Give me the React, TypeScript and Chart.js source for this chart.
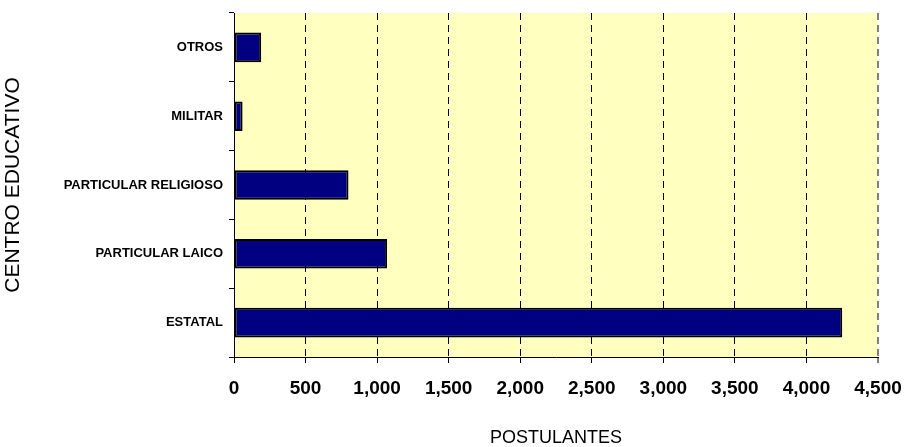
import React, { useEffect, useRef } from "react";
import { Chart, registerables } from "chart.js";

Chart.register(...registerables);

const categories = ["OTROS", "MILITAR", "PARTICULAR RELIGIOSO", "PARTICULAR LAICO", "ESTATAL"];
const postulantes = [190, 60, 800, 1070, 4250];
const xMin = 0;
const xMax = 4500;
const xStep = 500;
const xTitle = "POSTULANTES";
const yTitle = "CENTRO EDUCATIVO";

const FONT = 'Arial, "Liberation Sans", sans-serif';

const plotBg = {
  id: "plotBg",
  beforeDraw(chart: any) {
    const { ctx, chartArea } = chart;
    ctx.save();
    ctx.fillStyle = "#FFFFC0";
    ctx.fillRect(chartArea.left, chartArea.top, chartArea.right - chartArea.left, chartArea.bottom - chartArea.top);
    ctx.restore();
  },
};

export default function App() {
  const ref = useRef<HTMLCanvasElement | null>(null);
  useEffect(() => {
    if (!ref.current) return;
    const chart = new Chart(ref.current, {
      type: "bar",
      data: {
        labels: categories,
        datasets: [
          {
            data: postulantes,
            backgroundColor: "#000080",
            borderColor: "#000000",
            borderWidth: 2,
            borderSkipped: false,
            barPercentage: 0.43,
            categoryPercentage: 1,
          },
        ],
      },
      plugins: [plotBg],
      options: {
        indexAxis: "y",
        responsive: false,
        animation: false,
        layout: { padding: { top: 13, right: 29, left: 0, bottom: 0 } },
        plugins: { legend: { display: false }, tooltip: { enabled: false } },
        scales: {
          x: {
            type: "linear",
            min: xMin,
            max: xMax,
            ticks: {
              stepSize: xStep,
              color: "#000",
              font: { family: FONT, size: 19, weight: "bold" },
              padding: 14,
              callback: (v: any) => Number(v).toLocaleString("en-US"),
            },
            grid: {
              color: (c: any) => (c.index === 0 ? "rgba(0,0,0,0)" : c.index === 9 ? "#808080" : "#000000"),
              lineWidth: (c: any) => (c.index === 9 ? 2 : 1),
              tickColor: "#000",
              tickLength: 6,
              tickWidth: 1,
            },
            border: { display: true, color: "#000", width: 1, dash: [7, 5] },
            title: {
              display: true,
              text: xTitle,
              color: "#000",
              font: { family: FONT, size: 18, weight: "normal", lineHeight: 1 },
              padding: { top: 0, bottom: 0 },
            },
            afterFit: (s: any) => {
              s.height = 90;
              s.paddingLeft = 0;
              s.paddingRight = 0;
            },
          },
          y: {
            ticks: {
              color: "#000",
              font: { family: FONT, size: 13, weight: "bold" },
              padding: 6,
            },
            grid: {
              drawOnChartArea: false,
              drawTicks: true,
              tickLength: 5,
              color: "#000",
              tickColor: "#000",
            },
            border: { display: true, color: "#000", width: 1 },
            title: {
              display: true,
              text: yTitle,
              color: "#000",
              font: { family: FONT, size: 21, weight: "normal", lineHeight: 1.2 },
              padding: { top: 1, bottom: 0 },
            },
            afterFit: (s: any) => {
              s.width = 234;
              s.paddingTop = 0;
              s.paddingBottom = 0;
            },
          },
        },
      },
    } as any);
    return () => chart.destroy();
  }, []);
  return (
    <div style={{ position: "fixed", left: 0, top: 0, width: 907, height: 447, background: "#fff" }}>
      <canvas ref={ref} width={907} height={447} style={{ display: "block" }} />
    </div>
  );
}
